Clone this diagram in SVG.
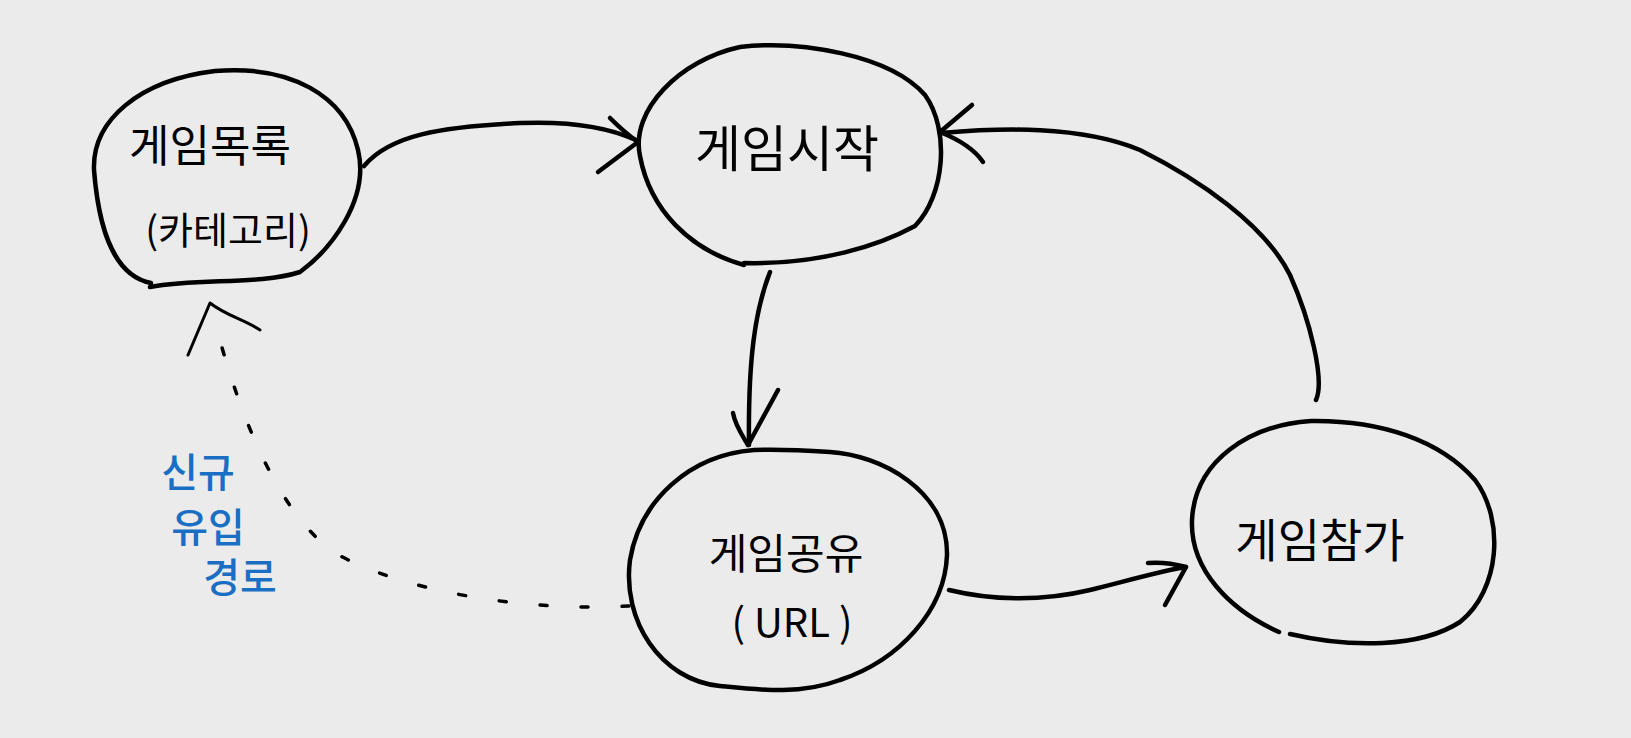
<svg xmlns="http://www.w3.org/2000/svg" width="1631" height="738" viewBox="0 0 1631 738">
<style>
.bg{fill:#ebebeb}
.ln{fill:none;stroke:#000;stroke-width:4.5;stroke-linecap:round;stroke-linejoin:round}
.dot{fill:none;stroke:#000;stroke-width:3.5;stroke-linecap:round;stroke-dasharray:7 34}
.t{font-family:"Noto Sans CJK KR","Noto Sans",sans-serif;fill:#000;text-anchor:middle;dominant-baseline:central}
.b{font-family:"Noto Sans CJK KR","Noto Sans",sans-serif;fill:#1a6fc4;text-anchor:middle;dominant-baseline:central;font-size:40px;font-weight:500}
</style>
<rect class="bg" width="1631" height="738"/>
<g id="connectors">
<path class="ln" d="M 364 166 C 390 135, 440 127, 520 123 C 570 121, 610 128, 636 140"/>
<path class="ln" d="M 610 118 C 620 128, 628 135, 638 142 L 598 172"/>
<path class="ln" d="M 1316 400 C 1325 380, 1310 320, 1290 275 C 1265 225, 1200 180, 1140 150 C 1080 125, 1000 128, 941 133"/>
<path class="ln" d="M 972 105 L 940 132 C 960 140, 975 150, 983 162"/>
<path class="ln" d="M 770 272 C 755 310, 748 360, 749 445"/>
<path class="ln" d="M 733 413 C 735 425, 742 435, 748 445 L 778 390"/>
<path class="ln" d="M 949 590 C 990 600, 1040 602, 1090 590 C 1130 580, 1165 570, 1186 567"/>
<path class="ln" d="M 1148 563 C 1160 562, 1175 564, 1186 567 L 1165 605"/>
<path class="dot" d="M 629 606 C 520 612, 400 590, 335 553 C 280 515, 240 420, 214 318"/>
<path class="ln" style="stroke-width:3" d="M 188 355 L 210 303 C 225 315, 245 320, 260 330"/>
</g>
<g id="node-list">
<path class="ln" d="M 151 283 C 110 275, 98 220, 94 170 C 92 120, 140 80, 215 71 C 290 65, 345 95, 358 150 C 370 200, 330 250, 300 272 C 260 285, 200 278, 150 287"/>
<text class="t" x="210" y="143" font-size="44">게임목록</text>
<text class="t" x="228" y="227" font-size="38">(카테고리)</text>
</g>
<g id="node-start">
<path class="ln" d="M 744 265 C 690 250, 650 210, 640 156 C 630 110, 680 60, 740 47 C 800 40, 890 55, 925 95 C 950 130, 945 195, 915 226 C 880 245, 820 265, 744 263"/>
<text class="t" x="787" y="145" font-size="50">게임시작</text>
</g>
<g id="node-share">
<path class="ln" d="M 754 450 C 690 455, 640 500, 630 560 C 622 620, 660 680, 720 686 C 760 690, 800 695, 840 680 C 900 660, 945 610, 947 555 C 948 490, 880 455, 830 452 C 800 450, 775 449, 754 450 Z"/>
<text class="t" x="786" y="550" font-size="42">게임공유</text>
<text class="t" x="792" y="620" font-size="40">( URL )</text>
</g>
<g id="node-join">
<path class="ln" d="M 1279 632 C 1230 610, 1190 570, 1192 520 C 1195 460, 1250 425, 1311 421 C 1380 420, 1440 440, 1475 480 C 1505 520, 1500 590, 1460 622 C 1420 648, 1350 648, 1290 634"/>
<text class="t" x="1320" y="537" font-size="46">게임참가</text>
</g>
<g id="label-new">
<text class="b" x="198" y="470">신규</text>
<text class="b" x="208" y="525">유입</text>
<text class="b" x="240" y="575">경로</text>
</g>
</svg>
